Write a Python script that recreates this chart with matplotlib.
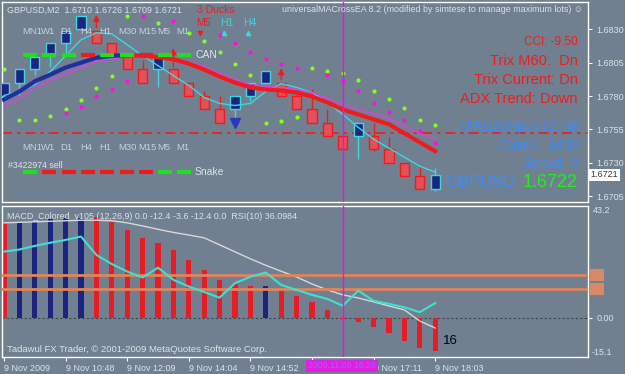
import matplotlib
matplotlib.use("Agg")
import matplotlib.pyplot as plt
from matplotlib.lines import Line2D
from matplotlib.patches import Rectangle
import numpy as np

# ---------------------------------------------------------------- data
# GBPUSD M2 bars
opens = [1.6780, 1.6790, 1.6800, 1.6811, 1.6820, 1.6830, 1.6829, 1.6820, 1.6810, 1.6800,
         1.6800, 1.6800, 1.6790, 1.6780, 1.6770, 1.6770, 1.6780, 1.6790, 1.6790, 1.6780,
         1.6770, 1.6760, 1.6750, 1.6750, 1.6750, 1.6740, 1.6730, 1.6720, 1.6710]
closes = [1.6790, 1.6800, 1.6809, 1.6820, 1.6829, 1.6840, 1.6820, 1.6812, 1.6800, 1.6790,
          1.6810, 1.6790, 1.6780, 1.6770, 1.6760, 1.6780, 1.6790, 1.6799, 1.6780, 1.6770,
          1.6760, 1.6750, 1.6740, 1.6760, 1.6740, 1.6730, 1.6720, 1.6710, 1.6721]
highs = [1.6790, 1.6800, 1.6809, 1.6820, 1.6829, 1.6840, 1.6829, 1.6820, 1.6810, 1.6807,
         1.6810, 1.6800, 1.6790, 1.6784, 1.6780, 1.6780, 1.6790, 1.6799, 1.6790, 1.6786,
         1.6785, 1.6770, 1.6750, 1.6760, 1.6760, 1.6749, 1.6730, 1.6727, 1.6726]
lows = [1.6780, 1.6781, 1.6796, 1.6802, 1.6812, 1.6830, 1.6820, 1.6812, 1.6800, 1.6790,
        1.6787, 1.6790, 1.6780, 1.6770, 1.6760, 1.6763, 1.6776, 1.6790, 1.6780, 1.6770,
        1.6760, 1.6750, 1.6740, 1.6733, 1.6739, 1.6730, 1.6720, 1.6710, 1.6709]

# moving averages
ma_slow = [1.67774, 1.67834, 1.67910, 1.67960, 1.68013, 1.68050, 1.68087, 1.68102, 1.68106, 1.68102,
           1.68091, 1.68076, 1.68043, 1.67998, 1.67946, 1.67901, 1.67864, 1.67849, 1.67841, 1.67826,
           1.67796, 1.67752, 1.67699, 1.67662, 1.67625, 1.67588, 1.67520, 1.67453, 1.67386]
ma_slow_blue_until = 8
ma_mid = [1.67722, 1.67782, 1.67864, 1.67916, 1.67968, 1.68013, 1.68058, 1.68080, 1.68095, 1.68095,
          1.68095, 1.68087, 1.68058, 1.68020, 1.67968, 1.67923, 1.67886, 1.67871, 1.67864, 1.67849,
          1.67826, 1.67782, 1.67737, 1.67699, 1.67670, 1.67632, 1.67573, 1.67520, 1.67476]
ma_fast = [1.67804, 1.67834, 1.67886, 1.67983, 1.68102, 1.68222, 1.68274, 1.68266, 1.68184, 1.68102,
           1.68028, 1.67953, 1.67879, 1.67789, 1.67744, 1.67729, 1.67744, 1.67834, 1.67893, 1.67864,
           1.67826, 1.67752, 1.67662, 1.67565, 1.67476, 1.67409, 1.67341, 1.67274, 1.67229]

nan = np.nan
dots_green = [1.6800, 1.6762, 1.6762, 1.6765, 1.6770, 1.6777, 1.6786, 1.6795, 1.6840, nan,
              1.6835, nan, 1.6827, 1.6821, 1.6813, 1.6804, 1.6796, 1.6760, 1.6761, 1.6764,
              1.6801, 1.6799, 1.6797, 1.6792, 1.6784, 1.6778, 1.6771, 1.6762, 1.6758]
dots_magenta = [nan, nan, nan, nan, 1.6767, 1.6772, 1.6780, 1.6785, 1.6791, 1.6840,
                nan, 1.6836, nan, nan, 1.6826, 1.6820, 1.6813, 1.6808, 1.6804, 1.6801,
                nan, 1.6796, 1.6791, 1.6784, 1.6775, 1.6768, 1.6762, 1.6754, 1.6745]

fractal_idx = [6, 11, 18]
fractal_tip = [1.6843, 1.6818, 1.6803]
sell_arrow_idx = 15
sell_arrow_price = 1.6760

price_ticks = [1.6705, 1.6730, 1.6755, 1.6780, 1.6805, 1.6830]
bid_price = 1.6721
order_line = 1.6752
cursor_idx = 22

# MACD window
macd_hist = [36.7, 36.8, 37.2, 38.2, 38.5, 38.7, 39.1, 36.9, 34.0, 30.8,
             29.1, 26.3, 22.4, 18.5, 14.7, 13.0, 12.5, 12.5, 11.1, 8.6,
             6.1, 3.1, -0.4, -1.4, -3.7, -5.9, -8.9, -11.5, -12.6]
macd_navy_idx = [1, 2, 3, 4, 5, 17]
macd_signal = [36.7, 36.9, 37.1, 37.3, 37.5, 37.7, 37.7, 37.5, 36.7, 35.5,
               34.2, 33.0, 32.0, 30.9, 28.2, 25.5, 22.8, 20.3, 18.0, 15.8,
               13.1, 10.8, 8.9, 7.7, 6.2, 4.6, 3.1, -1.2, -3.9]
rsi_line = [25.6, 26.4, 27.8, 29.0, 30.1, 31.4, 24.3, 20.8, 17.9, 15.6,
            19.4, 14.7, 12.1, 10.0, 7.8, 13.4, 15.9, 17.5, 12.7, 10.8,
            8.9, 7.3, 4.7, 10.5, 6.6, 5.4, 4.1, 2.2, 5.7]
rsi_levels = [16.6, 11.1]
macd_max, macd_min = 43.2, -15.1

time_tick_idx = [0, 4, 8, 12, 16, 20, 24, 28]
time_labels = ["9 Nov 2009", "9 Nov 10:48", "9 Nov 12:09", "9 Nov 14:04",
               "9 Nov 14:52", "", "9 Nov 17:11", "9 Nov 18:03"]
cursor_time = "2009.11.09 16:26"

timeframes = ["MN1", "W1", "D1", "H4", "H1", "M30", "M15", "M5", "M1"]
can_state = [1, 1, 1, 0, 1, 1, 0, 1, 1]
snake_state = [1, 0, 0, 0, 0, 0, 0, 1, 1]

info_red = ["CCI: -9.50", "Trix M60:  Dn", "Trix Current: Dn", "ADX Trend: Down"]
info_blue = ["ATR(12) Pips x 2.0: 38", "Candle:  -14:59", "Spread:  3"]

# ---------------------------------------------------------------- style
BG = "#708090"
TXT = "#dde2e8"
RED = "#f01c1c"
RED_BODY = "#e2505a"
NAVY = "#1c2480"
CYAN = "#3cd8e0"
BLUE_TXT = "#3a8cff"
GREEN = "#22dd22"
MAGENTA = "#ff00ff"

plt.rcParams["font.family"] = ["Liberation Sans", "DejaVu Sans"]

W, H = 625, 374


def fx(x):
    return x / W


def fy(y):
    return 1 - y / H


def ftext(x, y, s, **kw):
    kw.setdefault("color", TXT)
    kw.setdefault("fontsize", 7)
    kw.setdefault("va", "center")
    return fig.text(fx(x), fy(y), s, **kw)


fig = plt.figure(figsize=(W / 100, H / 100), dpi=100, facecolor=BG)
ax = fig.add_axes([fx(2), fy(202), (588 - 2) / W, (202 - 2) / H], facecolor=BG)
ax2 = fig.add_axes([fx(2), fy(357), (588 - 2) / W, (357 - 206) / H], facecolor=BG)

n = len(opens)
x = np.arange(n)
step = 15.4
for a in (ax, ax2):
    a.set_xlim((2 - 4) / step, (588 - 4) / step)
    for sp in a.spines.values():
        sp.set_color("white")
        sp.set_linewidth(1)

# ---------------------------------------------------------------- main chart
ax.set_ylim(1.67005, 1.68505)

o = np.array(opens)
c = np.array(closes)
up = c >= o
ax.vlines(x, lows, highs, colors=[CYAN if u else RED for u in up], lw=1, zorder=2)
ax.bar(x, c - o, bottom=o, width=0.6,
       color=[NAVY if u else RED_BODY for u in up],
       edgecolor=[CYAN if u else RED for u in up], linewidth=1, zorder=3)

for i, tip in zip(fractal_idx, fractal_tip):
    ax.annotate("", xy=(i, tip), xytext=(i, highs[i]),
                arrowprops=dict(arrowstyle="-|>", color=RED, lw=1, mutation_scale=9), zorder=4)
ax.plot(sell_arrow_idx, sell_arrow_price, "v", color="#2a38c0", ms=7, zorder=4)

ax.plot(x, ma_fast, color=CYAN, lw=1, zorder=4)
ax.plot(x, ma_mid, color="#e040e0", lw=1, zorder=4)
k = ma_slow_blue_until
ax.plot(x[:k + 1], ma_slow[:k + 1], color="#1f2f9f", lw=3, zorder=5)
ax.plot(x[k:], ma_slow[k:], color=RED, lw=3, zorder=5)

ax.plot(x, dots_green, "o", color="#80ff20", ms=3, mec="none", zorder=4)
ax.plot(x, dots_magenta, "o", color="#ff10d8", ms=3, mec="none", zorder=4)

ax.axhline(order_line, color=RED, lw=1.2, ls=(0, (6, 3, 2, 3)), zorder=1)
ax.axhline(bid_price, color="#30c030", lw=0.8, ls=(0, (1, 3)), zorder=1)
ax.axvline(cursor_idx, color=MAGENTA, lw=1, zorder=6)

ax.yaxis.tick_right()
ax.set_yticks(price_ticks)
ax.set_yticklabels([f"{p:.4f}" for p in price_ticks])
ax.tick_params(axis="y", colors="white", labelcolor=TXT, labelsize=6.5, length=3, pad=3)
ax.set_xticks([])
ax.text(1.004, bid_price, f"{bid_price:.4f}", transform=ax.get_yaxis_transform(),
        fontsize=6.5, color="#303840", va="center",
        bbox=dict(facecolor="white", edgecolor="none", pad=1.2))

# ---------------------------------------------------------------- MACD window
ax2.set_ylim(macd_min, macd_max)
ax2.bar(x, macd_hist, width=0.33,
        color=[NAVY if i in macd_navy_idx else "#e81c24" for i in range(n)], zorder=2)
ax2.plot(x, macd_signal, color="#d8d8d8", lw=1, zorder=3)
for lvl in rsi_levels:
    ax2.axhline(lvl, color="#e0845c", lw=2, zorder=3)
ax2.plot(x, rsi_line, color="#40e0d0", lw=1.5, zorder=4)
ax2.axhline(0, color="#3c4650", lw=0.8, ls=(0, (2, 2)), zorder=1)
ax2.axvline(cursor_idx, color=MAGENTA, lw=1, zorder=6)

ax2.yaxis.tick_right()
ax2.set_yticks([0])
ax2.set_yticklabels(["0.00"])
ax2.tick_params(axis="y", colors="white", labelcolor=TXT, labelsize=6.5, length=3, pad=3)
ax2.text(1.009, macd_max, f"{macd_max}", transform=ax2.get_yaxis_transform(),
         fontsize=6.5, color=TXT, va="top")
ax2.text(1.006, macd_min, f"{macd_min}", transform=ax2.get_yaxis_transform(),
         fontsize=6.5, color=TXT, va="bottom")
for lvl in rsi_levels:
    ax2.add_patch(Rectangle((1.003, lvl - 2.2), 0.025, 4.4, transform=ax2.get_yaxis_transform(),
                            facecolor="#d88a64", edgecolor="none", clip_on=False))

ax2.set_xticks(time_tick_idx)
ax2.set_xticklabels(time_labels, ha="left")
ax2.tick_params(axis="x", colors="white", labelcolor=TXT, labelsize=6.5, length=3, pad=2)

ax2.text(0.008, 0.93, "MACD_Colored_v105 (12,26,9) 0.0 -12.4 -3.6 -12.4 0.0  RSI(10) 36.0984",
         transform=ax2.transAxes, fontsize=6.4, color=TXT, va="center")
ax2.text(0.008, 0.05, "Tadawul FX Trader, \u00a9 2001-2009 MetaQuotes Software Corp.",
         transform=ax2.transAxes, fontsize=6.8, color=TXT, va="center")
ftext(443, 341, "16", color="black", fontsize=9.5)

ftext(342, 366, cursor_time, ha="center", color="#a060ff", fontsize=6.3,
      bbox=dict(facecolor="#e020e0", edgecolor="none", pad=1.2))

# ---------------------------------------------------------------- text overlays
ftext(7, 10, "GBPUSD,M2  1.6710 1.6726 1.6709 1.6721", fontsize=6.4)
ftext(197, 10, "3 Ducks", color=RED, fontsize=7.5)
ftext(583, 10, "universalMACrossEA 8.2 (modified by simtese to manage maximum lots) \u263a",
      ha="right", fontsize=6.4)
ftext(196, 23, "M5", color=RED, fontsize=7.5)
ftext(220, 23, "H1", color=CYAN, fontsize=7.5)
ftext(243, 23, "H4", color=CYAN, fontsize=7.5)
for xm, mk, col in [(200, "v", RED), (224, "^", CYAN), (248, "^", CYAN)]:
    fig.add_artist(Line2D([fx(xm)], [fy(33)], marker=mk, ms=3, color=col, transform=fig.transFigure))

tf_x0, tf_step = 23, 19.3
for row_label_y, row_y, states, name in [(32, 55, can_state, "CAN"), (147, 172, snake_state, "Snake")]:
    for j, (tf, st) in enumerate(zip(timeframes, states)):
        x0 = tf_x0 + j * tf_step
        ftext(x0 - 1, row_label_y, tf, fontsize=6.8, color="#c8d2dc")
        fig.add_artist(Line2D([fx(x0), fx(x0 + 14)], [fy(row_y), fy(row_y)], lw=3,
                              color=GREEN if st else RED, solid_capstyle="butt",
                              transform=fig.transFigure))
    ftext(195, row_y, name, fontsize=7.5)
ftext(8, 166, "#3422974 sell", fontsize=6.3)

red_y = [42, 61, 80, 99]
red_size = [8.5, 10.5, 10.5, 10.5]
for s, yy, fs in zip(info_red, red_y, red_size):
    ftext(578, yy, s, ha="right", color=RED, fontsize=fs)
for s, yy in zip(info_blue, [128, 146, 164]):
    ftext(578, yy, s, ha="right", color=BLUE_TXT, fontsize=8.5)
ftext(445, 183, "GBPUSD", color=BLUE_TXT, fontsize=12)
ftext(578, 183, "1.6722", ha="right", color="#20ee20", fontsize=13)

fig.savefig("out.png", dpi=100, facecolor=BG)
